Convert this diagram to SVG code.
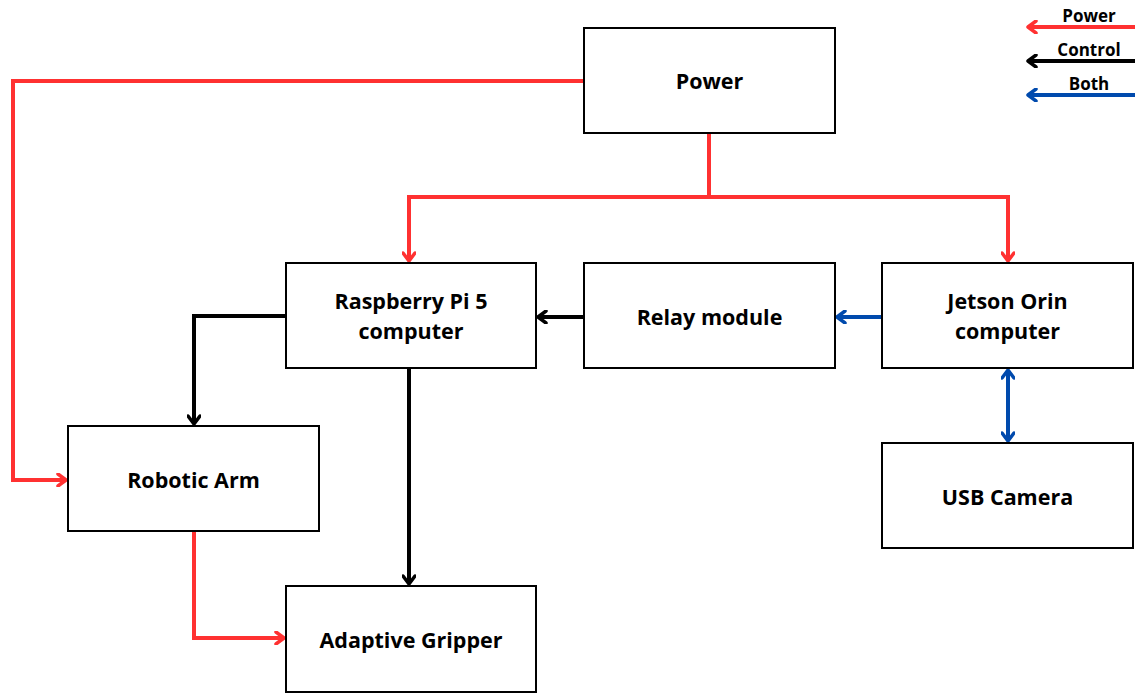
<svg xmlns="http://www.w3.org/2000/svg" width="1135" height="695" viewBox="0 0 1135 695">
<defs>
<style>
.box{fill:#fff;stroke:#000;stroke-width:2}
.lbl{font-family:"Open Sans","Liberation Sans",sans-serif;font-weight:700;font-size:21.5px;fill:#000;text-anchor:middle}
.leg{font-family:"Open Sans","Liberation Sans",sans-serif;font-weight:700;font-size:17px;fill:#000;text-anchor:middle}
.c{fill:none;stroke-width:4;stroke-linejoin:miter}
.red{stroke:#ff3131}
.blk{stroke:#000}
.blu{stroke:#004aad}
</style>
<marker id="ar" viewBox="0 0 12 14" refX="10" refY="7" markerWidth="12" markerHeight="14" markerUnits="userSpaceOnUse" orient="auto-start-reverse"><path d="M2,1 L10,7 L2,13" fill="none" stroke="#ff3131" stroke-width="3.5" stroke-linecap="round" stroke-linejoin="round"/></marker>
<marker id="ak" viewBox="0 0 12 14" refX="10" refY="7" markerWidth="12" markerHeight="14" markerUnits="userSpaceOnUse" orient="auto-start-reverse"><path d="M2,1 L10,7 L2,13" fill="none" stroke="#000" stroke-width="3.5" stroke-linecap="round" stroke-linejoin="round"/></marker>
<marker id="ab" viewBox="0 0 12 14" refX="10" refY="7" markerWidth="12" markerHeight="14" markerUnits="userSpaceOnUse" orient="auto-start-reverse"><path d="M2,1 L10,7 L2,13" fill="none" stroke="#004aad" stroke-width="3.5" stroke-linecap="round" stroke-linejoin="round"/></marker>
</defs>
<rect width="1135" height="695" fill="#fff"/>
<g id="connectors">
<path class="c red" d="M584,81 H13 V480 H66" marker-end="url(#ar)"/>
<path class="c red" d="M709,133 V197"/>
<path class="c red" d="M709,197 H409 V261" marker-end="url(#ar)"/>
<path class="c red" d="M709,197 H1008 V261" marker-end="url(#ar)"/>
<path class="c blk" d="M584,317 H538" marker-end="url(#ak)"/>
<path class="c blu" d="M882,317 H837" marker-end="url(#ab)"/>
<path class="c blu" d="M1008,370 V441" marker-start="url(#ab)" marker-end="url(#ab)"/>
<path class="c blk" d="M286,316 H194 V424" marker-end="url(#ak)"/>
<path class="c blk" d="M409,368 V584" marker-end="url(#ak)"/>
<path class="c red" d="M194,531 V638 H284" marker-end="url(#ar)"/>
</g>
<g id="legend">
<path class="c red" d="M1135,27 H1028" marker-end="url(#ar)"/>
<text class="leg" x="1089" y="22">Power</text>
<path class="c blk" d="M1135,61 H1028" marker-end="url(#ak)"/>
<text class="leg" x="1089" y="56">Control</text>
<path class="c blu" d="M1135,95 H1028" marker-end="url(#ab)"/>
<text class="leg" x="1089" y="90">Both</text>
</g>
<g id="power"><rect class="box" x="584" y="28" width="251" height="105"/><text class="lbl" x="709.5" y="89">Power</text></g>
<g id="raspberry"><rect class="box" x="286" y="263" width="250" height="105"/><text class="lbl" x="411" y="309">Raspberry Pi 5</text><text class="lbl" x="411" y="339">computer</text></g>
<g id="relay"><rect class="box" x="584" y="263" width="251" height="105"/><text class="lbl" x="709.5" y="325">Relay module</text></g>
<g id="jetson"><rect class="box" x="882" y="263" width="251" height="105"/><text class="lbl" x="1007.5" y="309">Jetson Orin</text><text class="lbl" x="1007.5" y="339">computer</text></g>
<g id="arm"><rect class="box" x="68" y="426" width="251" height="105"/><text class="lbl" x="193.5" y="488">Robotic Arm</text></g>
<g id="camera"><rect class="box" x="882" y="443" width="251" height="105"/><text class="lbl" x="1007.5" y="505">USB Camera</text></g>
<g id="gripper"><rect class="box" x="286" y="586" width="250" height="106"/><text class="lbl" x="411" y="648">Adaptive Gripper</text></g>
</svg>
